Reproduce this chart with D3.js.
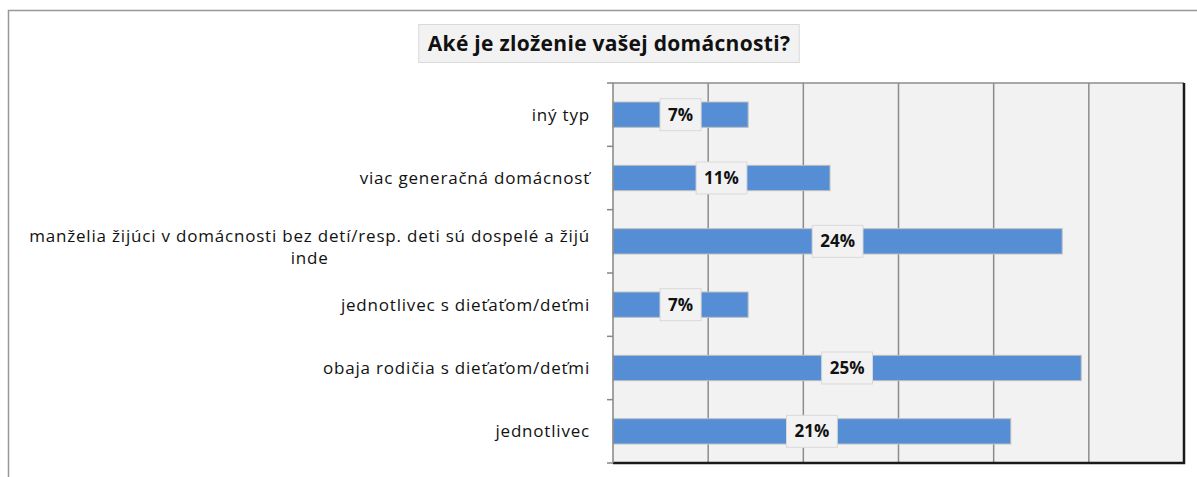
<!DOCTYPE html>
<html lang="sk">
  <head>
    <meta charset="UTF-8" />
    <title>Aké je zloženie vašej domácnosti?</title>
    <script src="https://d3js.org/d3.v7.min.js"></script>
    <style>
      body { margin: 0; background: #fff; }
      svg text { font-family: "Open Sans", Lato, sans-serif; fill: #111; }
    </style>
  </head>
  <body>
    <svg id="chart" width="1197" height="477"></svg>

    <script>
      const categories = [
        "iný typ",
        "viac generačná domácnosť",
        "manželia žijúci v domácnosti bez detí/resp. deti sú dospelé a žijú inde",
        "jednotlivec s dieťaťom/deťmi",
        "obaja rodičia s dieťaťom/deťmi",
        "jednotlivec",
      ];
      const values = [0.071, 0.114, 0.236, 0.071, 0.246, 0.209];
      const xTicks = [0, 0.05, 0.1, 0.15, 0.2, 0.25, 0.3];
      const title = "Aké je zloženie vašej domácnosti?";

      const svg = d3.select("#chart"),
        margin = { top: 83, right: 13, bottom: 14, left: 613 },
        width = +svg.attr("width") - margin.left - margin.right,
        height = +svg.attr("height") - margin.top - margin.bottom;

      // outer chart frame
      svg
        .append("rect")
        .attr("x", 8.5)
        .attr("y", 10.5)
        .attr("width", 1300)
        .attr("height", 600)
        .attr("fill", "#fff")
        .attr("stroke", "#999")
        .attr("stroke-width", 1.5);

      // title box
      const titleG = svg.append("g");
      const titleText = titleG
        .append("text")
        .attr("x", 609)
        .attr("y", 51)
        .attr("text-anchor", "middle")
        .style("font-size", "21px")
        .style("font-weight", "bold")
        .style("letter-spacing", "0.3px")
        .text(title);
      const tb = titleText.node().getBBox();
      titleG
        .insert("rect", "text")
        .attr("x", tb.x - 9)
        .attr("y", 24.5)
        .attr("width", tb.width + 18)
        .attr("height", 38)
        .attr("fill", "#f2f2f2")
        .attr("stroke", "#d9d9d9");

      const chart = svg
        .append("g")
        .attr("transform", `translate(${margin.left},${margin.top})`);

      const x = d3.scaleLinear().domain([0, 0.3]).range([0, width]);
      const y = d3
        .scaleBand()
        .domain(categories)
        .range([0, height])
        .paddingInner(0.6)
        .paddingOuter(0.3);

      chart
        .append("rect")
        .attr("width", width)
        .attr("height", height)
        .attr("fill", "#f2f2f2");

      // vertical gridlines
      chart
        .append("g")
        .selectAll("line")
        .data(xTicks.slice(1))
        .enter()
        .append("line")
        .attr("x1", (d) => x(d))
        .attr("x2", (d) => x(d))
        .attr("y1", 0)
        .attr("y2", height)
        .attr("stroke", "#8c8c8c")
        .attr("stroke-width", 1.5);

      // top border
      chart
        .append("line")
        .attr("x1", 0)
        .attr("x2", width)
        .attr("y1", 0)
        .attr("y2", 0)
        .attr("stroke", "#8c8c8c")
        .attr("stroke-width", 1.5);

      // bars
      chart
        .selectAll(".bar")
        .data(values)
        .enter()
        .append("rect")
        .attr("class", "bar")
        .attr("x", 0)
        .attr("y", (d, i) => y(categories[i]))
        .attr("width", (d) => x(d))
        .attr("height", y.bandwidth())
        .attr("fill", "#558ed5")
        .attr("stroke", "#bfbfbf")
        .attr("stroke-width", 1);

      // data labels
      const fmt = d3.format(".0%");
      const labels = chart
        .selectAll(".lbl")
        .data(values)
        .enter()
        .append("g")
        .attr("class", "lbl")
        .attr(
          "transform",
          (d, i) =>
            `translate(${x(d) / 2},${y(categories[i]) + y.bandwidth() / 2})`
        );
      labels.each(function (d) {
        const g = d3.select(this);
        const t = g
          .append("text")
          .attr("text-anchor", "middle")
          .attr("dy", "0.36em")
          .style("font-size", "17px")
          .style("font-weight", "bold")
          .text(fmt(d));
        const w = t.node().getComputedTextLength();
        g.insert("rect", "text")
          .attr("x", -w / 2 - 8)
          .attr("y", -16)
          .attr("width", w + 16)
          .attr("height", 32)
          .attr("fill", "#f2f2f2")
          .attr("stroke", "#d9d9d9");
      });

      // right + bottom plot border
      chart
        .append("path")
        .attr("d", `M${width},0V${height}H0`)
        .attr("fill", "none")
        .attr("stroke", "#1a1a1a")
        .attr("stroke-width", 2.5);

      // left axis with ticks between categories
      const yAxis = chart.append("g");
      yAxis
        .append("line")
        .attr("x1", 0)
        .attr("x2", 0)
        .attr("y1", 0)
        .attr("y2", height)
        .attr("stroke", "#868686")
        .attr("stroke-width", 1.5);
      yAxis
        .selectAll(".tick")
        .data(d3.range(categories.length + 1))
        .enter()
        .append("line")
        .attr("x1", -6)
        .attr("x2", 0)
        .attr("y1", (i) => i * y.step())
        .attr("y2", (i) => i * y.step())
        .attr("stroke", "#868686")
        .attr("stroke-width", 1.5);

      // category labels, wrapped and centred like the original
      const maxW = 575;
      categories.forEach((c, i) => {
        const cy = y(c) + y.bandwidth() / 2;
        const t = chart
          .append("text")
          .style("font-size", "17px")
          .style("letter-spacing", "0.8px")
          .attr("text-anchor", "middle");
        const words = c.split(" ");
        const lines = [];
        let cur = [];
        words.forEach((w) => {
          t.text([...cur, w].join(" "));
          if (t.node().getComputedTextLength() > maxW && cur.length) {
            lines.push(cur.join(" "));
            cur = [w];
          } else cur.push(w);
        });
        lines.push(cur.join(" "));
        t.text(null);
        let widest = 0;
        lines.forEach((l) => {
          const tmp = t.append("tspan").text(l);
          widest = Math.max(widest, tmp.node().getComputedTextLength());
          tmp.remove();
        });
        const lh = 22;
        const shift = lines.length > 1 ? 6 : 0;
        const cx = -23 - widest / 2;
        lines.forEach((l, k) => {
          t.append("tspan")
            .attr("x", cx)
            .attr("y", cy + shift + (k - (lines.length - 1) / 2) * lh)
            .attr("dy", "0.35em")
            .text(l);
        });
      });
    </script>
  </body>
</html>
